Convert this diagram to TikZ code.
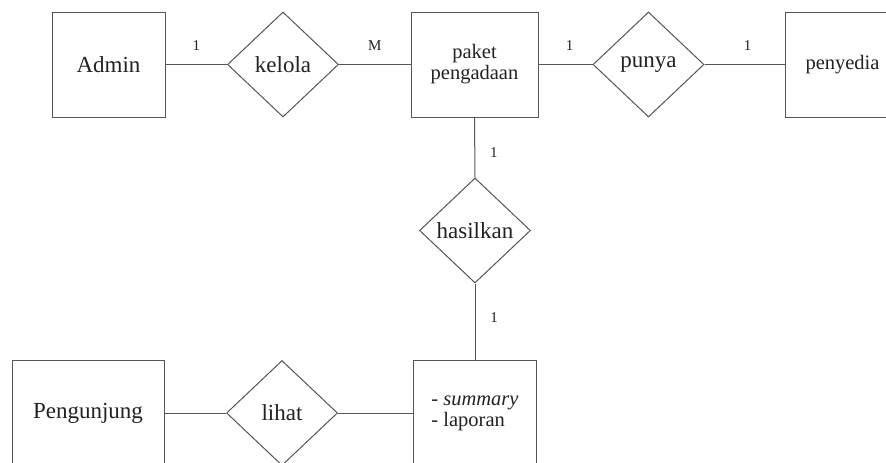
\documentclass[tikz,border=0pt]{standalone}
\usepackage{fontspec}
\setmainfont{Liberation Serif}
\usetikzlibrary{shapes.geometric}
\definecolor{linecol}{HTML}{555555}
\definecolor{textcol}{HTML}{222222}
\tikzset{
  ent/.style={draw=linecol, line width=1pt, rectangle, inner sep=0pt, text=textcol},
  rel/.style={draw=linecol, line width=1pt, diamond, inner sep=0pt, text=textcol,
              minimum width=111pt, minimum height=105pt, font=\fontsize{23}{26}\selectfont},
  big/.style={font=\fontsize{23}{26}\selectfont},
  mid/.style={font=\fontsize{20.5}{22}\selectfont, align=center},
  conn/.style={draw=linecol, line width=1pt},
  card/.style={font=\fontsize{15}{17}\selectfont, text=textcol, inner sep=0pt}
}
\begin{document}
\begin{tikzpicture}[x=1pt,y=-1pt]
\useasboundingbox (0,0) rectangle (886,463);
\clip (0,0) rectangle (886,463);
% entities
\node[ent, big, minimum width=113pt, minimum height=105pt] (admin) at (108.5,64.5) {Admin};
\node[ent, mid, minimum width=127pt, minimum height=105pt] (paket) at (474.5,64.5) {paket\\[-1pt]pengadaan};
\node[ent, mid, minimum width=115pt, minimum height=105pt] (penyedia) at (842.5,64.5) {penyedia};
\node[ent, big, minimum width=152pt, minimum height=106pt] (pengunjung) at (88,413) {Pengunjung};
\node[ent, mid, minimum width=123pt, minimum height=106pt, align=left] (laporan) at (475,413) {- \textit{summary}\\[-1pt]- laporan};
% relationships
\node[rel] (kelola) at (283,64.5) {kelola};
\node[rel] (punya) at (648.5,64.5) {punya};
\node[rel] (hasilkan) at (475,230.5) {hasilkan};
\node[rel] (lihat) at (282,413) {lihat};
% connectors
\draw[conn] (admin.east) -- node[card, midway, yshift=19pt] (c1) {1} (kelola.west);
\draw[conn] (kelola.east) -- node[card, midway, yshift=19pt] (c2) {M} (paket.west);
\draw[conn] (paket.east) -- node[card, midway, yshift=19pt, xshift=4pt] (c3) {1} (punya.west);
\draw[conn] (punya.east) -- node[card, midway, yshift=19pt, xshift=3pt] (c4) {1} (penyedia.west);
\draw[conn] (paket.south) -- node[card, midway, xshift=19pt, yshift=-5pt] (c5) {1} (hasilkan.north);
\draw[conn] (hasilkan.south) -- node[card, midway, xshift=19pt, yshift=4pt] (c6) {1} (laporan.north);
\draw[conn] (pengunjung.east) -- (lihat.west);
\draw[conn] (lihat.east) -- (laporan.west);
\end{tikzpicture}
\end{document}
